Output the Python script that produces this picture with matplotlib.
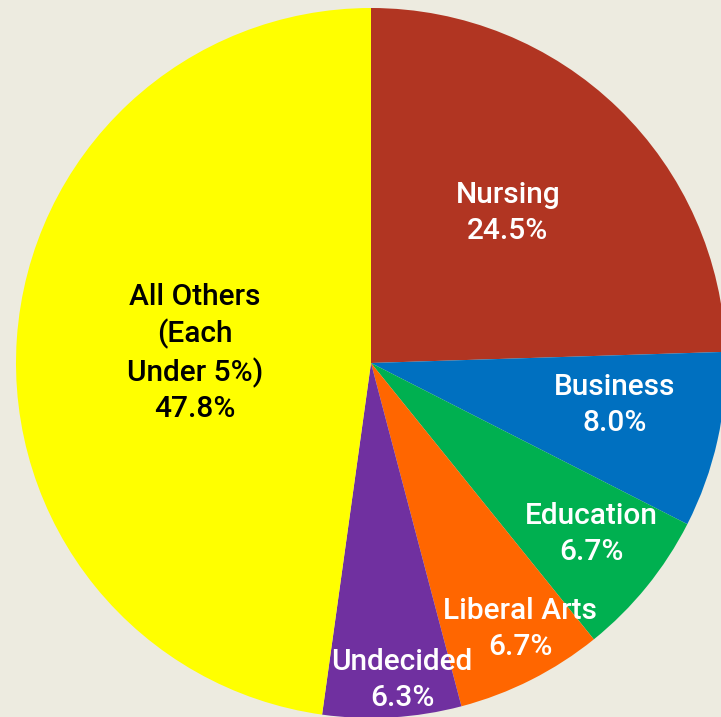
import matplotlib
matplotlib.use("Agg")
import matplotlib.pyplot as plt

categories = ["Nursing", "Business", "Education", "Liberal Arts", "Undecided", "All Others\n(Each\nUnder 5%)"]
values = [24.5, 8.0, 6.7, 6.7, 6.3, 47.8]
colors = ["#B13522", "#0070C0", "#00B050", "#FF6600", "#7030A0", "#FFFF00"]
text_colors = ["white", "white", "white", "white", "white", "black"]
label_pos = [(508, 213), (615, 405), (591, 534), (520, 629), (402, 680), (195, 353)]

W, H = 721, 717
bg = "#EDEBE0"
fig = plt.figure(figsize=(W / 100, H / 100), dpi=100, facecolor=bg)
ax = fig.add_axes([0, 0, 1, 1])
ax.set_facecolor(bg)

cx, cy, r = 371, 363, 355
wedges, _ = ax.pie(values, colors=colors, startangle=90, counterclock=False,
                   center=(cx, -cy), radius=r, frame=True,
                   wedgeprops=dict(linewidth=0))
ax.set_xlim(0, W)
ax.set_ylim(-H, 0)
ax.set_aspect("equal")
ax.axis("off")

for cat, v, tc, (x, y) in zip(categories, values, text_colors, label_pos):
    ax.text(x, -y, f"{cat}\n{v:.1f}%", ha="center", va="center", color=tc,
            fontsize=21.5, family=["Roboto", "DejaVu Sans"], fontweight="medium",
            linespacing=1.33)

fig.savefig("out.png", dpi=100, facecolor=bg)
